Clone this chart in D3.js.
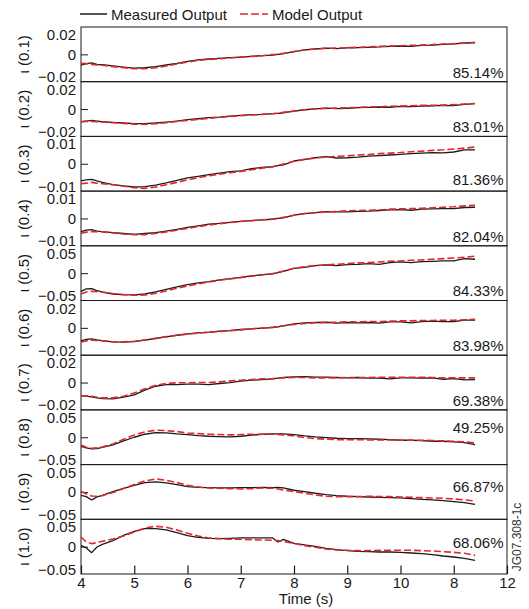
<!DOCTYPE html>
<html>
<head>
<meta charset="utf-8">
<script src="https://cdn.jsdelivr.net/npm/d3@7"></script>
<style>
  html, body { margin: 0; padding: 0; background: #fff; }
  svg { display: block; font-family: "Liberation Sans", Arial, Helvetica, sans-serif; }
</style>
</head>
<body>
<svg id="chart" width="529" height="609"></svg>
<script>
// Sample instants (s)
const time = [4.0, 4.1, 4.2, 4.3, 4.4, 4.6, 4.8, 5.0, 5.2, 5.4, 5.6, 5.8, 6.0, 6.2, 6.4, 6.6, 6.8,
  7.0, 7.2, 7.4, 7.6, 7.7, 7.8, 8.0, 8.2, 8.4, 8.6, 8.8, 9.0, 9.2, 9.4, 9.6, 9.8, 10.0, 10.2,
  10.4, 10.6, 10.8, 11.0, 11.2, 11.4];

// Measured output, one array per normalized radius
const measured01 = [-0.0078, -0.0068, -0.0063, -0.0073, -0.0076, -0.0085, -0.0093, -0.0100, -0.0098, -0.0090, -0.0078, -0.0066, -0.0051, -0.0041, -0.0034, -0.0029, -0.0024,
  -0.0020, -0.0015, -0.0010, -0.0005, 0.0000, 0.0005, 0.0020, 0.0032, 0.0039, 0.0046, 0.0042, 0.0048, 0.0049, 0.0051, 0.0054, 0.0059, 0.0061, 0.0058,
  0.0066, 0.0068, 0.0073, 0.0076, 0.0083, 0.0085];
const measured02 = [-0.0093, -0.0088, -0.0083, -0.0088, -0.0093, -0.0098, -0.0102, -0.0107, -0.0107, -0.0102, -0.0095, -0.0088, -0.0078, -0.0071, -0.0063, -0.0059, -0.0051,
  -0.0046, -0.0041, -0.0039, -0.0034, -0.0032, -0.0027, -0.0015, -0.0005, 0.0002, 0.0007, 0.0003, 0.0006, 0.0010, 0.0012, 0.0015, 0.0013, 0.0020, 0.0018,
  0.0022, 0.0024, 0.0027, 0.0025, 0.0034, 0.0039];
const measured03 = [-0.0063, -0.0059, -0.0057, -0.0063, -0.0068, -0.0076, -0.0081, -0.0085, -0.0084, -0.0078, -0.0070, -0.0061, -0.0052, -0.0046, -0.0040, -0.0034, -0.0029,
  -0.0026, -0.0018, -0.0013, -0.0011, -0.0007, -0.0004, 0.0010, 0.0016, 0.0022, 0.0026, 0.0021, 0.0022, 0.0024, 0.0028, 0.0030, 0.0032, 0.0034, 0.0037,
  0.0039, 0.0041, 0.0040, 0.0043, 0.0051, 0.0051];
const measured04 = [-0.0048, -0.0043, -0.0041, -0.0046, -0.0048, -0.0052, -0.0055, -0.0058, -0.0055, -0.0052, -0.0046, -0.0040, -0.0033, -0.0027, -0.0021, -0.0018, -0.0014,
  -0.0011, -0.0008, -0.0005, -0.0003, 0.0000, 0.0002, 0.0012, 0.0018, 0.0021, 0.0025, 0.0024, 0.0024, 0.0026, 0.0027, 0.0029, 0.0031, 0.0032, 0.0030,
  0.0034, 0.0035, 0.0036, 0.0036, 0.0040, 0.0041];
const measured05 = [-0.0332, -0.0289, -0.0283, -0.0320, -0.0344, -0.0381, -0.0393, -0.0399, -0.0381, -0.0344, -0.0295, -0.0253, -0.0210, -0.0179, -0.0155, -0.0124, -0.0100,
  -0.0076, -0.0051, -0.0027, -0.0015, 0.0010, 0.0034, 0.0089, 0.0107, 0.0138, 0.0150, 0.0138, 0.0156, 0.0162, 0.0174, 0.0162, 0.0193, 0.0205, 0.0193,
  0.0211, 0.0217, 0.0223, 0.0223, 0.0266, 0.0254];
const measured06 = [-0.0095, -0.0085, -0.0081, -0.0088, -0.0093, -0.0102, -0.0105, -0.0100, -0.0090, -0.0078, -0.0066, -0.0054, -0.0044, -0.0037, -0.0032, -0.0024, -0.0020,
  -0.0012, -0.0007, -0.0002, 0.0002, 0.0007, 0.0015, 0.0029, 0.0037, 0.0039, 0.0041, 0.0034, 0.0039, 0.0037, 0.0039, 0.0034, 0.0044, 0.0044, 0.0037,
  0.0046, 0.0049, 0.0046, 0.0046, 0.0056, 0.0056];
const measured07 = [-0.0098, -0.0100, -0.0105, -0.0112, -0.0117, -0.0120, -0.0107, -0.0090, -0.0056, -0.0027, -0.0015, -0.0015, -0.0012, -0.0012, -0.0015, -0.0007, 0.0000,
  0.0010, 0.0017, 0.0022, 0.0027, 0.0032, 0.0037, 0.0041, 0.0044, 0.0039, 0.0039, 0.0037, 0.0034, 0.0037, 0.0032, 0.0032, 0.0027, 0.0034, 0.0034,
  0.0032, 0.0034, 0.0024, 0.0029, 0.0020, 0.0022];
const measured08 = [-0.0165, -0.0195, -0.0214, -0.0207, -0.0183, -0.0140, -0.0067, 0.0000, 0.0055, 0.0085, 0.0079, 0.0061, 0.0049, 0.0031, 0.0018, 0.0012, 0.0006,
  0.0018, 0.0037, 0.0055, 0.0061, 0.0061, 0.0061, 0.0049, 0.0024, 0.0006, -0.0006, -0.0018, -0.0024, -0.0024, -0.0031, -0.0037, -0.0043, -0.0055, -0.0055,
  -0.0061, -0.0073, -0.0073, -0.0085, -0.0098, -0.0134];
const measured09 = [-0.0061, -0.0085, -0.0146, -0.0092, -0.0061, 0.0006, 0.0067, 0.0122, 0.0171, 0.0183, 0.0165, 0.0134, 0.0098, 0.0085, 0.0079, 0.0073, 0.0073,
  0.0079, 0.0079, 0.0085, 0.0079, 0.0085, 0.0073, 0.0031, 0.0006, -0.0024, -0.0049, -0.0067, -0.0079, -0.0085, -0.0092, -0.0098, -0.0104, -0.0110, -0.0122,
  -0.0134, -0.0146, -0.0159, -0.0177, -0.0195, -0.0226];
const measured10 = [0.0024, -0.0024, -0.0110, -0.0006, 0.0043, 0.0110, 0.0207, 0.0281, 0.0329, 0.0329, 0.0305, 0.0256, 0.0201, 0.0171, 0.0153, 0.0146, 0.0153,
  0.0159, 0.0159, 0.0159, 0.0159, 0.0085, 0.0134, 0.0061, 0.0031, 0.0006, -0.0031, -0.0055, -0.0073, -0.0085, -0.0092, -0.0098, -0.0098, -0.0104, -0.0116,
  -0.0128, -0.0146, -0.0171, -0.0189, -0.0214, -0.0250];

// Model output, one array per normalized radius
const model01 = [-0.0066, -0.0068, -0.0073, -0.0078, -0.0080, -0.0090, -0.0098, -0.0105, -0.0105, -0.0098, -0.0085, -0.0071, -0.0056, -0.0044, -0.0037, -0.0032, -0.0027,
  -0.0020, -0.0015, -0.0010, -0.0002, 0.0002, 0.0007, 0.0020, 0.0032, 0.0039, 0.0044, 0.0046, 0.0049, 0.0051, 0.0054, 0.0059, 0.0061, 0.0063, 0.0066,
  0.0068, 0.0071, 0.0076, 0.0078, 0.0083, 0.0088];
const model02 = [-0.0093, -0.0090, -0.0090, -0.0093, -0.0095, -0.0100, -0.0105, -0.0110, -0.0112, -0.0107, -0.0100, -0.0090, -0.0083, -0.0076, -0.0068, -0.0061, -0.0054,
  -0.0049, -0.0044, -0.0039, -0.0034, -0.0029, -0.0024, -0.0015, -0.0005, 0.0002, 0.0005, 0.0007, 0.0010, 0.0012, 0.0015, 0.0017, 0.0020, 0.0022, 0.0024,
  0.0027, 0.0027, 0.0029, 0.0032, 0.0037, 0.0041];
const model03 = [-0.0073, -0.0071, -0.0068, -0.0071, -0.0073, -0.0077, -0.0082, -0.0088, -0.0090, -0.0085, -0.0077, -0.0068, -0.0059, -0.0051, -0.0044, -0.0038, -0.0033,
  -0.0028, -0.0022, -0.0016, -0.0011, -0.0006, -0.0001, 0.0009, 0.0016, 0.0021, 0.0024, 0.0027, 0.0029, 0.0032, 0.0034, 0.0037, 0.0039, 0.0041, 0.0044,
  0.0046, 0.0049, 0.0051, 0.0054, 0.0057, 0.0061];
const model04 = [-0.0054, -0.0050, -0.0048, -0.0048, -0.0049, -0.0053, -0.0057, -0.0059, -0.0059, -0.0055, -0.0049, -0.0043, -0.0036, -0.0030, -0.0024, -0.0019, -0.0015,
  -0.0011, -0.0008, -0.0005, -0.0002, 0.0001, 0.0004, 0.0012, 0.0018, 0.0021, 0.0024, 0.0025, 0.0028, 0.0029, 0.0030, 0.0031, 0.0034, 0.0035, 0.0036,
  0.0037, 0.0039, 0.0041, 0.0043, 0.0046, 0.0048];
const model05 = [-0.0381, -0.0344, -0.0332, -0.0338, -0.0350, -0.0375, -0.0393, -0.0405, -0.0399, -0.0368, -0.0326, -0.0277, -0.0234, -0.0198, -0.0161, -0.0131, -0.0106,
  -0.0082, -0.0057, -0.0033, -0.0009, 0.0016, 0.0040, 0.0089, 0.0120, 0.0138, 0.0150, 0.0162, 0.0174, 0.0187, 0.0193, 0.0205, 0.0217, 0.0223, 0.0235,
  0.0242, 0.0254, 0.0266, 0.0278, 0.0290, 0.0309];
const model06 = [-0.0105, -0.0095, -0.0090, -0.0093, -0.0095, -0.0102, -0.0102, -0.0098, -0.0088, -0.0076, -0.0063, -0.0054, -0.0046, -0.0039, -0.0032, -0.0027, -0.0020,
  -0.0015, -0.0007, -0.0002, 0.0005, 0.0010, 0.0015, 0.0024, 0.0032, 0.0037, 0.0039, 0.0041, 0.0044, 0.0044, 0.0046, 0.0046, 0.0049, 0.0051, 0.0051,
  0.0054, 0.0054, 0.0056, 0.0056, 0.0059, 0.0063];
const model07 = [-0.0095, -0.0098, -0.0100, -0.0107, -0.0112, -0.0112, -0.0100, -0.0076, -0.0046, -0.0020, -0.0007, -0.0002, -0.0002, 0.0000, 0.0000, 0.0005, 0.0012,
  0.0017, 0.0022, 0.0027, 0.0029, 0.0032, 0.0034, 0.0037, 0.0037, 0.0034, 0.0034, 0.0034, 0.0037, 0.0037, 0.0037, 0.0039, 0.0039, 0.0039, 0.0039,
  0.0039, 0.0037, 0.0034, 0.0034, 0.0034, 0.0034];
const model08 = [-0.0140, -0.0183, -0.0201, -0.0195, -0.0177, -0.0122, -0.0037, 0.0043, 0.0098, 0.0128, 0.0122, 0.0104, 0.0079, 0.0067, 0.0055, 0.0049, 0.0043,
  0.0049, 0.0055, 0.0055, 0.0055, 0.0049, 0.0043, 0.0024, -0.0006, -0.0024, -0.0037, -0.0043, -0.0043, -0.0043, -0.0049, -0.0049, -0.0049, -0.0055, -0.0055,
  -0.0055, -0.0061, -0.0067, -0.0073, -0.0085, -0.0104];
const model09 = [0.0012, -0.0037, -0.0073, -0.0079, -0.0067, -0.0012, 0.0061, 0.0134, 0.0201, 0.0238, 0.0214, 0.0171, 0.0122, 0.0092, 0.0073, 0.0067, 0.0061,
  0.0055, 0.0061, 0.0073, 0.0067, 0.0055, 0.0037, 0.0006, -0.0024, -0.0055, -0.0079, -0.0085, -0.0085, -0.0085, -0.0079, -0.0085, -0.0085, -0.0092, -0.0098,
  -0.0104, -0.0110, -0.0116, -0.0128, -0.0146, -0.0165];
const model10 = [0.0177, 0.0085, 0.0055, 0.0073, 0.0098, 0.0140, 0.0195, 0.0268, 0.0342, 0.0372, 0.0354, 0.0305, 0.0244, 0.0195, 0.0159, 0.0146, 0.0134,
  0.0134, 0.0128, 0.0122, 0.0116, 0.0110, 0.0092, 0.0061, 0.0018, -0.0012, -0.0043, -0.0061, -0.0067, -0.0073, -0.0073, -0.0067, -0.0067, -0.0067, -0.0067,
  -0.0073, -0.0079, -0.0092, -0.0104, -0.0122, -0.0159];

// Panel names, axis half-ranges and fit percentages
const panelNames = ["ι (0.1)", "ι (0.2)", "ι (0.3)", "ι (0.4)", "ι (0.5)", "ι (0.6)", "ι (0.7)", "ι (0.8)", "ι (0.9)", "ι (1.0)"];
const panelLimits = [0.02, 0.02, 0.01, 0.01, 0.05, 0.02, 0.02, 0.05, 0.05, 0.05];
const fitPercent = ["85.14%", "83.01%", "81.36%", "82.04%", "84.33%", "83.98%", "69.38%", "49.25%", "66.87%", "68.06%"];

// Time axis ticks
const xTicks = [4, 5, 6, 7, 8, 9, 10, 11, 12];
const xTickLabels = ["4", "5", "6", "7", "8", "9", "10", "8", "12"];

const measuredSeries = [measured01, measured02, measured03, measured04, measured05,
  measured06, measured07, measured08, measured09, measured10];
const modelSeries = [model01, model02, model03, model04, model05,
  model06, model07, model08, model09, model10];

// ---- layout ----
const left = 81, right = 507, top0 = 27, bottom = 574;
const nPanels = panelNames.length;
const ph = (bottom - top0) / nPanels;
// baseline of the fit percentage, measured from each panel's top edge
const fitOffset = [50.5, 50.5, 49, 50.5, 50.5, 50.5, 50.5, 23, 27.6, 28.7];

const ink = "#1a1a1a";
const red = "#e3262c";
const svg = d3.select("#chart");

const x = d3.scaleLinear().domain([4, 12]).range([left, right]);
const fmt = d3.format("~g");

panelNames.forEach((name, i) => {
  const t = top0 + i * ph, b = t + ph;
  const a = panelLimits[i];
  const y = d3.scaleLinear().domain([-a, a]).range([b, t]);
  const g = svg.append("g");

  // frame
  g.append("rect")
    .attr("x", left).attr("y", t)
    .attr("width", right - left).attr("height", ph)
    .attr("fill", "none").attr("stroke", ink).attr("stroke-width", 1);

  // tick labels at -a, 0, a (extremes pulled inside the panel)
  const ax = g.append("g")
    .attr("transform", `translate(${left},0)`)
    .call(d3.axisLeft(y).tickValues([-a, 0, a]).tickFormat(fmt).tickSize(0).tickPadding(5));
  ax.select(".domain").remove();
  ax.attr("font-size", 15).attr("font-family", null);
  ax.selectAll("text")
    .attr("fill", ink)
    .attr("dy", d => d > 0 ? "12.5px" : d < 0 ? "0px" : "5px");

  // inward tick at zero
  const zt = g.append("g")
    .attr("transform", `translate(${left},0)`)
    .call(d3.axisLeft(y).tickValues([0]).tickSize(-7).tickFormat(""));
  zt.select(".domain").remove();
  zt.selectAll("line").attr("stroke", ink);

  // series
  const line = d3.line()
    .x((d, k) => x(time[k]))
    .y(d => y(d));

  g.append("path")
    .datum(measuredSeries[i])
    .attr("d", line)
    .attr("fill", "none").attr("stroke", ink)
    .attr("stroke-width", 1.3).attr("stroke-linejoin", "round");

  g.append("path")
    .datum(modelSeries[i])
    .attr("d", line)
    .attr("fill", "none").attr("stroke", red)
    .attr("stroke-width", 1.6).attr("stroke-dasharray", "7,3");

  // fit percentage
  g.append("text")
    .attr("x", right - 3.5).attr("y", t + fitOffset[i])
    .attr("text-anchor", "end").attr("font-size", 15).attr("fill", ink)
    .text(fitPercent[i]);

  // panel name
  g.append("text")
    .attr("transform", `translate(29,${t + ph / 2}) rotate(-90)`)
    .attr("text-anchor", "middle").attr("font-size", 15).attr("fill", ink)
    .text(name);
});

// time axis
const xa = svg.append("g")
  .attr("transform", `translate(0,${bottom})`)
  .call(d3.axisBottom(x).tickValues(xTicks)
    .tickFormat((d, i) => xTickLabels[i])
    .tickSize(-8.5).tickSizeOuter(0).tickPadding(3));
xa.select(".domain").remove();
xa.attr("font-size", 15).attr("font-family", null);
xa.selectAll("line").attr("stroke", ink).attr("stroke-width", 1.2);
xa.selectAll("text").attr("fill", ink);

svg.append("text")
  .attr("x", 306).attr("y", 604)
  .attr("text-anchor", "middle").attr("font-size", 15).attr("fill", ink)
  .text("Time (s)");

// legend
const legend = svg.append("g");
legend.append("line")
  .attr("x1", 80).attr("x2", 107).attr("y1", 14).attr("y2", 14)
  .attr("stroke", ink).attr("stroke-width", 1.5);
legend.append("text")
  .attr("x", 111).attr("y", 19.5).attr("font-size", 15).attr("fill", ink)
  .text("Measured Output");
legend.append("line")
  .attr("x1", 240).attr("x2", 268).attr("y1", 14).attr("y2", 14)
  .attr("stroke", red).attr("stroke-width", 1.6).attr("stroke-dasharray", "8,3");
legend.append("text")
  .attr("x", 272).attr("y", 19.5).attr("font-size", 15).attr("fill", ink)
  .text("Model Output");

// figure code
svg.append("text")
  .attr("transform", "translate(521,537) rotate(-90)")
  .attr("text-anchor", "middle").attr("font-size", 12).attr("fill", "#333")
  .text("JG07.308-1c");
</script>
</body>
</html>
